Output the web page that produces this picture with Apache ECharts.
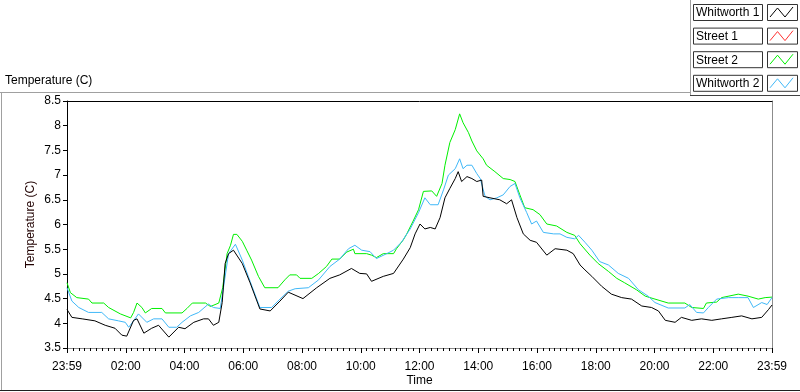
<!DOCTYPE html>
<html>
<head>
<meta charset="utf-8">
<script src="https://cdn.jsdelivr.net/npm/echarts@6/dist/echarts.min.js"></script>
<style>
html, body { margin: 0; padding: 0; background: #fff; }
#chart { width: 800px; height: 392px; }
</style>
</head>
<body>
<div id="chart"></div>
<script>
// minutes since 23:59 -> temperature (C)
const w1Time = [0, 10, 31, 57, 78, 98, 112, 122, 136, 143, 157, 173, 187, 208, 228, 241, 259, 279, 289, 299, 310, 317, 323, 330, 340, 358, 374, 394, 415, 435, 452, 482, 510, 537, 557, 581, 598, 612, 622, 646, 667, 687, 701, 711, 721, 731, 742, 752, 762, 772, 782, 793, 799, 806, 817, 827, 837, 847, 850, 864, 884, 898, 908, 919, 932, 946, 959, 980, 997, 1021, 1034, 1048, 1058, 1072, 1092, 1112, 1133, 1153, 1174, 1194, 1208, 1222, 1242, 1255, 1276, 1296, 1317, 1337, 1358, 1378, 1399, 1419, 1433, 1440];
const w1Temp = [4.28, 4.12, 4.09, 4.05, 3.96, 3.9, 3.76, 3.74, 4.06, 4.09, 3.8, 3.9, 3.96, 3.72, 3.92, 3.89, 4.02, 4.09, 4.09, 3.96, 4.02, 4.42, 5.21, 5.41, 5.48, 5.21, 4.82, 4.29, 4.25, 4.45, 4.63, 4.5, 4.72, 4.91, 4.98, 5.11, 5.01, 5.0, 4.85, 4.95, 5.01, 5.3, 5.53, 5.81, 6.01, 5.91, 5.94, 5.91, 6.14, 6.54, 6.73, 6.93, 7.07, 6.87, 6.97, 6.93, 6.87, 6.9, 6.57, 6.54, 6.5, 6.42, 6.5, 6.14, 5.81, 5.68, 5.64, 5.38, 5.51, 5.48, 5.41, 5.18, 5.08, 4.95, 4.75, 4.59, 4.52, 4.49, 4.35, 4.32, 4.25, 4.06, 4.02, 4.12, 4.06, 4.09, 4.06, 4.09, 4.12, 4.15, 4.09, 4.12, 4.28, 4.37];

const s1Time = [];
const s1Temp = [];

const s2Time = [0, 7, 20, 44, 51, 75, 85, 109, 130, 136, 143, 153, 160, 173, 194, 201, 235, 245, 256, 283, 293, 310, 318, 327, 334, 340, 347, 358, 367, 377, 391, 404, 431, 445, 455, 469, 476, 500, 514, 530, 541, 557, 571, 585, 588, 612, 622, 632, 646, 667, 673, 687, 694, 707, 718, 728, 745, 755, 766, 772, 782, 793, 802, 809, 820, 827, 837, 850, 857, 874, 891, 905, 915, 925, 935, 952, 966, 980, 1000, 1021, 1037, 1048, 1068, 1085, 1106, 1123, 1139, 1163, 1181, 1201, 1228, 1262, 1276, 1300, 1306, 1327, 1337, 1371, 1391, 1412, 1426, 1440];
const s2Temp = [4.82, 4.62, 4.52, 4.49, 4.41, 4.41, 4.32, 4.19, 4.11, 4.22, 4.41, 4.32, 4.21, 4.3, 4.3, 4.21, 4.21, 4.3, 4.41, 4.41, 4.34, 4.41, 4.72, 5.41, 5.58, 5.8, 5.8, 5.66, 5.48, 5.28, 4.95, 4.72, 4.72, 4.88, 4.98, 4.98, 4.91, 4.91, 5.01, 5.15, 5.3, 5.3, 5.44, 5.5, 5.41, 5.41, 5.38, 5.33, 5.41, 5.41, 5.51, 5.69, 5.81, 6.07, 6.3, 6.67, 6.68, 6.57, 6.83, 7.2, 7.66, 7.92, 8.24, 8.06, 7.86, 7.69, 7.49, 7.33, 7.2, 7.07, 6.93, 6.91, 6.87, 6.6, 6.34, 6.3, 6.2, 6.01, 5.97, 5.84, 5.78, 5.61, 5.38, 5.21, 5.05, 4.91, 4.82, 4.68, 4.55, 4.49, 4.41, 4.41, 4.32, 4.3, 4.41, 4.43, 4.52, 4.59, 4.55, 4.49, 4.52, 4.53];

const w2Time = [0, 10, 24, 44, 71, 85, 105, 119, 126, 136, 146, 163, 177, 194, 208, 224, 235, 252, 269, 289, 299, 313, 320, 330, 344, 358, 374, 394, 418, 435, 452, 466, 493, 514, 537, 557, 575, 588, 602, 619, 632, 653, 667, 683, 701, 718, 731, 742, 758, 769, 779, 793, 802, 809, 817, 827, 837, 844, 854, 864, 878, 891, 905, 915, 925, 939, 949, 959, 973, 994, 1007, 1021, 1037, 1045, 1058, 1072, 1088, 1106, 1126, 1147, 1167, 1187, 1201, 1228, 1262, 1272, 1286, 1300, 1310, 1327, 1351, 1371, 1391, 1402, 1419, 1430, 1440];
const w2Temp = [4.72, 4.45, 4.32, 4.22, 4.22, 4.09, 4.05, 4.02, 3.92, 4.05, 4.19, 4.02, 4.09, 4.09, 3.92, 3.92, 4.02, 4.15, 4.22, 4.39, 4.32, 4.3, 4.75, 5.41, 5.6, 5.28, 4.85, 4.32, 4.32, 4.49, 4.65, 4.7, 4.72, 4.88, 5.15, 5.3, 5.51, 5.58, 5.48, 5.45, 5.31, 5.41, 5.48, 5.64, 5.91, 6.24, 6.54, 6.4, 6.4, 6.7, 7.0, 7.13, 7.33, 7.13, 7.2, 7.2, 7.03, 6.93, 6.57, 6.5, 6.54, 6.6, 6.77, 6.83, 6.54, 6.24, 6.01, 6.07, 5.84, 5.81, 5.81, 5.74, 5.71, 5.78, 5.64, 5.48, 5.25, 5.18, 5.01, 4.91, 4.68, 4.55, 4.42, 4.31, 4.31, 4.38, 4.22, 4.21, 4.32, 4.49, 4.52, 4.52, 4.52, 4.32, 4.42, 4.38, 4.52];

const timeLabels = ['23:59', '02:00', '04:00', '06:00', '08:00', '10:00', '12:00', '14:00', '16:00', '18:00', '20:00', '22:00', '23:59'];
const seriesNames = ['Whitworth 1', 'Street 1', 'Street 2', 'Whitworth 2'];
const seriesColors = ['#000000', '#ff3030', '#00f000', '#40b8f8'];

const font = 'Liberation Sans';

function pairs(t, v) {
    return t.map((m, i) => [m, v[i]]);
}

let myChart = echarts.init(document.getElementById('chart'));

// legend drawn like the LabVIEW plot legend (name box + sample box)
let legendGraphics = [];
seriesNames.forEach((name, i) => {
    let top = 4 + i * 23.6;
    legendGraphics.push({
        type: 'rect', shape: { x: 693.5, y: top + 0.5, width: 69, height: 16 },
        style: { fill: '#fff', stroke: '#333', lineWidth: 1 }, silent: true
    });
    legendGraphics.push({
        type: 'text', x: 696, y: top + 9,
        style: { text: name, font: '12px "' + font + '"', fill: '#000', verticalAlign: 'middle' }, silent: true
    });
    legendGraphics.push({
        type: 'rect', shape: { x: 767.5, y: top + 0.5, width: 30, height: 16 },
        style: { fill: '#fff', stroke: '#333', lineWidth: 1 }, silent: true
    });
    legendGraphics.push({
        type: 'polyline',
        shape: { points: [[770, top + 13], [777.5, top + 4], [785, top + 13], [793, top + 3]] },
        style: { stroke: seriesColors[i], lineWidth: 1, fill: null }, silent: true
    });
});

let option = {
    animation: false,
    backgroundColor: '#fff',
    textStyle: { fontFamily: font },
    grid: { left: 67, right: 28, top: 101, bottom: 39 },
    xAxis: [{
        type: 'value',
        min: 0,
        max: 1440,
        interval: 120,
        name: 'Time',
        nameLocation: 'middle',
        nameGap: 27,
        nameMoveOverlap: false,
        nameTextStyle: { color: '#000', fontSize: 12, fontFamily: font },
        axisLine: { onZero: false, lineStyle: { color: '#8c8c8c', width: 1 } },
        axisTick: { length: 5, lineStyle: { color: '#000' } },
        minorTick: { show: true, splitNumber: 10, length: 3, lineStyle: { color: '#000' } },
        splitLine: { show: false },
        axisLabel: {
            margin: 13,
            color: '#000',
            fontSize: 12,
            fontFamily: font,
            formatter: v => timeLabels[Math.round(v / 120)]
        }
    }, {
        type: 'value',
        position: 'top',
        min: 0,
        max: 1440,
        axisLine: { onZero: false, lineStyle: { color: '#000', width: 1 } },
        axisTick: { show: false },
        axisLabel: { show: false },
        splitLine: { show: false }
    }],
    yAxis: [{
        type: 'value',
        min: 3.5,
        max: 8.5,
        interval: 0.5,
        name: 'Temperature (C)',
        nameLocation: 'middle',
        nameGap: 30,
        nameMoveOverlap: false,
        nameTextStyle: { color: '#200000', fontSize: 12, fontFamily: font },
        axisLine: { show: true, onZero: false, lineStyle: { color: '#000', width: 1 } },
        axisTick: { show: true, length: 4, lineStyle: { color: '#000' } },
        splitLine: { show: false },
        axisLabel: { margin: 6, color: '#000', fontSize: 12, fontFamily: font }
    }, {
        type: 'value',
        position: 'right',
        min: 3.5,
        max: 8.5,
        axisLine: { show: true, onZero: false, lineStyle: { color: '#8c8c8c', width: 1 } },
        axisTick: { show: false },
        axisLabel: { show: false },
        splitLine: { show: false }
    }],
    graphic: [
        {
            type: 'text', left: 5, top: 75,
            style: { text: 'Temperature (C)', font: '12px "' + font + '"', fill: '#000' }, silent: true
        },
        { type: 'line', shape: { x1: 0, y1: 92.5, x2: 690, y2: 92.5 }, style: { stroke: '#a0a0a0', lineWidth: 1 }, silent: true },
        { type: 'line', shape: { x1: 1.5, y1: 92, x2: 1.5, y2: 391 }, style: { stroke: '#a0a0a0', lineWidth: 1 }, silent: true },
        { type: 'line', shape: { x1: 0, y1: 390.5, x2: 800, y2: 390.5 }, style: { stroke: '#202020', lineWidth: 1 }, silent: true },
        { type: 'line', shape: { x1: 690.5, y1: 0, x2: 690.5, y2: 95 }, style: { stroke: '#a0a0a0', lineWidth: 1 }, silent: true },
        { type: 'line', shape: { x1: 690, y1: 95.5, x2: 800, y2: 95.5 }, style: { stroke: '#404040', lineWidth: 1 }, silent: true }
    ].concat(legendGraphics),
    series: [{
        name: seriesNames[0],
        type: 'line',
        symbol: 'none',
        z: 5,
        lineStyle: { color: seriesColors[0], width: 1 },
        data: pairs(w1Time, w1Temp)
    }, {
        name: seriesNames[1],
        type: 'line',
        symbol: 'none',
        lineStyle: { color: seriesColors[1], width: 1 },
        data: pairs(s1Time, s1Temp)
    }, {
        name: seriesNames[2],
        type: 'line',
        symbol: 'none',
        z: 3,
        lineStyle: { color: seriesColors[2], width: 1 },
        data: pairs(s2Time, s2Temp)
    }, {
        name: seriesNames[3],
        type: 'line',
        symbol: 'none',
        z: 4,
        lineStyle: { color: seriesColors[3], width: 1 },
        data: pairs(w2Time, w2Temp)
    }]
};

myChart.setOption(option);
</script>
</body>
</html>
